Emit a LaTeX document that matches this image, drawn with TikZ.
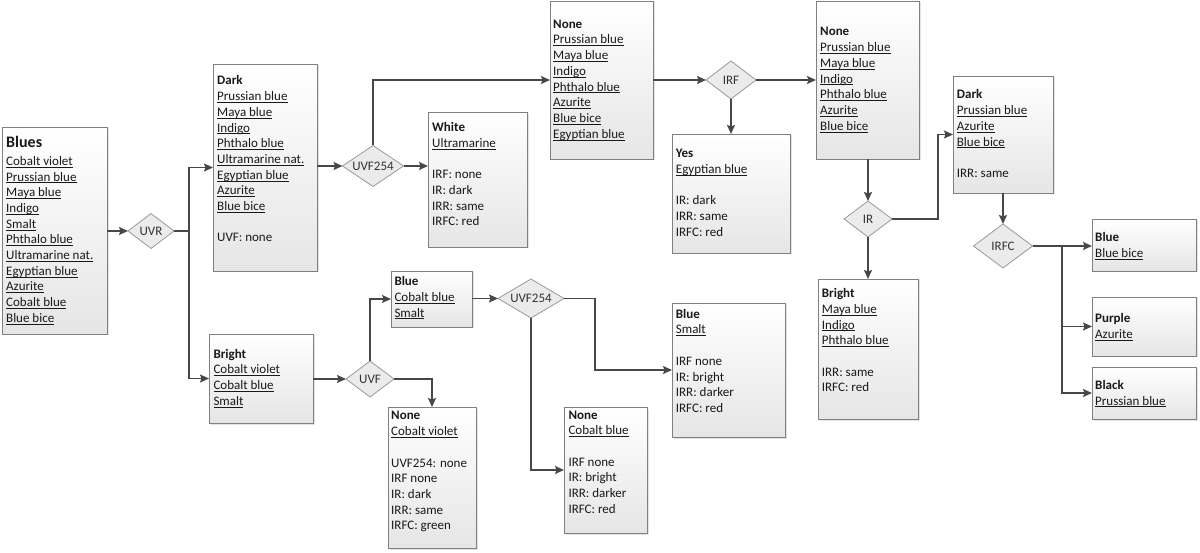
\documentclass[tikz,border=0pt]{standalone}
\usepackage{fontspec}
\setmainfont{Carlito}
\usetikzlibrary{shapes.geometric,arrows.meta,fit,shadows}
\newsavebox\lnkbox
\newcommand{\lnk}[1]{\sbox\lnkbox{#1}\rlap{\rule[-2pt]{\wd\lnkbox}{0.65pt}}\usebox\lnkbox}
\newcommand{\ttl}[1]{\textbf{#1}}
\begin{document}
\begin{tikzpicture}[x=1pt,y=-1pt,
 box/.style={draw=black!50, line width=0.8pt, top color=white, bottom color=black!10, inner sep=0pt, outer sep=0pt,
   drop shadow={shadow xshift=1.5pt, shadow yshift=-1.5pt, opacity=0.22}},
 txt/.style={anchor=base west, inner sep=0pt, font=\fontsize{13}{15.7}\selectfont, text=black!90},
 dia/.style={diamond, draw=black!40, line width=0.8pt, fill=black!8, inner sep=0pt, outer sep=0pt},
 dtxt/.style={inner sep=0pt, font=\fontsize{13}{15.7}\selectfont, text=black!80},
 arr/.style={draw=black!72, line width=1.5pt, -{Stealth[length=9pt,width=8pt,inset=1.5pt]}},
 ln/.style={draw=black!72, line width=1.5pt}]
\useasboundingbox[fill=white] (0,0) rectangle (1200,553);

% boxes
\node[box, fit={(2,127) (107,334)}] (blues) {};
\node[box, fit={(213,64) (317,271)}] (dark) {};
\node[box, fit={(428,112) (527,247)}] (white) {};
\node[box, fit={(550,1) (653,159)}] (none1) {};
\node[box, fit={(672,134) (790,253)}] (yes) {};
\node[box, fit={(816,1) (919,159)}] (none2) {};
\node[box, fit={(953,76) (1053,193)}] (dark2) {};
\node[box, fit={(1092,219) (1196,271)}] (blueR) {};
\node[box, fit={(1092,297) (1196,356)}] (purple) {};
\node[box, fit={(1092,367) (1196,419)}] (black) {};
\node[box, fit={(818,279) (918,419)}] (bright2) {};
\node[box, fit={(209,334) (313,423)}] (bright) {};
\node[box, fit={(391,271) (472,327)}] (blueM) {};
\node[box, fit={(388,407) (476,548)}] (none3) {};
\node[box, fit={(672,303) (785,437)}] (blue3) {};
\node[box, fit={(564,407) (647,533)}] (none4) {};

% diamonds
\node[dia, minimum width=46pt, minimum height=35pt] (uvr) at (151,231) {};
\node[dtxt] (uvrt) at (uvr) {UVR};
\node[dia, minimum width=61pt, minimum height=41pt] (uvfa) at (373,166) {};
\node[dtxt] (uvfat) at (uvfa) {UVF254};
\node[dia, minimum width=50pt, minimum height=38pt] (irf) at (731,80) {};
\node[dtxt] (irft) at (irf) {IRF};
\node[dia, minimum width=48pt, minimum height=36pt] (ir) at (868,219) {};
\node[dtxt] (irt) at (ir) {IR};
\node[dia, minimum width=59pt, minimum height=44pt] (irfc) at (1003,246) {};
\node[dtxt] (irfct) at (irfc) {IRFC};
\node[dia, minimum width=48pt, minimum height=36pt] (uvf) at (370,379) {};
\node[dtxt] (uvft) at (uvf) {UVF};
\node[dia, minimum width=66pt, minimum height=39pt] (uvfb) at (531,298.5) {};
\node[dtxt] (uvfbt) at (uvfb) {UVF254};

% texts
\node[txt] (tblues) at (6,148) {\begin{tabular}[t]{@{}l@{}}{\fontsize{16}{19}\selectfont\bfseries Blues}\\[1.7pt]
 \lnk{Cobalt violet}\\ \lnk{Prussian blue}\\ \lnk{Maya blue}\\ \lnk{Indigo}\\ \lnk{Smalt}\\ \lnk{Phthalo blue}\\
 \lnk{Ultramarine nat.}\\ \lnk{Egyptian blue}\\ \lnk{Azurite}\\ \lnk{Cobalt blue}\\ \lnk{Blue bice}\end{tabular}};
\node[txt] (tdark) at (217,85) {\begin{tabular}[t]{@{}l@{}}\ttl{Dark}\\ \lnk{Prussian blue}\\ \lnk{Maya blue}\\ \lnk{Indigo}\\
 \lnk{Phthalo blue}\\ \lnk{Ultramarine nat.}\\ \lnk{Egyptian blue}\\ \lnk{Azurite}\\ \lnk{Blue bice}\\ \\ UVF: none\end{tabular}};
\node[txt] (twhite) at (432,131.7) {\begin{tabular}[t]{@{}l@{}}\ttl{White}\\ \lnk{Ultramarine}\\ \\ IRF: none\\ IR: dark\\ IRR: same\\ IRFC: red\end{tabular}};
\node[txt] (tnone1) at (553,28.3) {\begin{tabular}[t]{@{}l@{}}\ttl{None}\\ \lnk{Prussian blue}\\ \lnk{Maya blue}\\ \lnk{Indigo}\\
 \lnk{Phthalo blue}\\ \lnk{Azurite}\\ \lnk{Blue bice}\\ \lnk{Egyptian blue}\end{tabular}};
\node[txt] (tyes) at (675.7,157.7) {\begin{tabular}[t]{@{}l@{}}\ttl{Yes}\\ \lnk{Egyptian blue}\\ \\ IR: dark\\ IRR: same\\ IRFC: red\end{tabular}};
\node[txt] (tnone2) at (820,36) {\begin{tabular}[t]{@{}l@{}}\ttl{None}\\ \lnk{Prussian blue}\\ \lnk{Maya blue}\\ \lnk{Indigo}\\
 \lnk{Phthalo blue}\\ \lnk{Azurite}\\ \lnk{Blue bice}\end{tabular}};
\node[txt] (tdark2) at (956.7,99) {\begin{tabular}[t]{@{}l@{}}\ttl{Dark}\\ \lnk{Prussian blue}\\ \lnk{Azurite}\\ \lnk{Blue bice}\\ \\ IRR: same\end{tabular}};
\node[txt] (tblueR) at (1095,241.7) {\begin{tabular}[t]{@{}l@{}}\ttl{Blue}\\ \lnk{Blue bice}\end{tabular}};
\node[txt] (tpurple) at (1095,322.7) {\begin{tabular}[t]{@{}l@{}}\ttl{Purple}\\ \lnk{Azurite}\end{tabular}};
\node[txt] (tblack) at (1095,389.3) {\begin{tabular}[t]{@{}l@{}}\ttl{Black}\\ \lnk{Prussian blue}\end{tabular}};
\node[txt] (tbright2) at (821.7,297.7) {\begin{tabular}[t]{@{}l@{}}\ttl{Bright}\\ \lnk{Maya blue}\\ \lnk{Indigo}\\ \lnk{Phthalo blue}\\ \\ IRR: same\\ IRFC: red\end{tabular}};
\node[txt] (tbright) at (213.3,358.3) {\begin{tabular}[t]{@{}l@{}}\ttl{Bright}\\ \lnk{Cobalt violet}\\ \lnk{Cobalt blue}\\ \lnk{Smalt}\end{tabular}};
\node[txt] (tblueM) at (394.3,285.7) {\begin{tabular}[t]{@{}l@{}}\ttl{Blue}\\ \lnk{Cobalt blue}\\ \lnk{Smalt}\end{tabular}};
\node[txt] (tnone3) at (391,420) {\begin{tabular}[t]{@{}l@{}}\ttl{None}\\ \lnk{Cobalt violet}\\ \\ UVF254: none\\ IRF none\\ IR: dark\\ IRR: same\\ IRFC: green\end{tabular}};
\node[txt] (tblue3) at (675.7,318.3) {\begin{tabular}[t]{@{}l@{}}\ttl{Blue}\\ \lnk{Smalt}\\ \\ IRF none\\ IR: bright\\ IRR: darker\\ IRFC: red\end{tabular}};
\node[txt] (tnone4) at (568.3,419) {\begin{tabular}[t]{@{}l@{}}\ttl{None}\\ \lnk{Cobalt blue}\\ \\ IRF none\\ IR: bright\\ IRR: darker\\ IRFC: red\end{tabular}};

% junctions
\coordinate (j1) at (189,231);
\coordinate (j2) at (938,219);
\coordinate (j3) at (1062,246);
\coordinate (j4) at (595,298.5);

% connectors
\draw[arr] (blues.east |- uvr.west) -- (uvr.west);
\draw[ln] (uvr.east) -- (j1);
\draw[arr] (j1) |- (dark.west);
\draw[arr] (j1) |- (bright.west);
\draw[arr] (dark.east |- uvfa.west) -- (uvfa.west);
\draw[arr] (uvfa.north) |- (none1.west);
\draw[arr] (uvfa.east) -- (uvfa.east -| white.west);
\draw[arr] (none1.east) -- (irf.west);
\draw[arr] (irf.east) -- (none2.west);
\draw[arr] (irf.south) -- (yes.north);
\draw[arr] (ir.north |- none2.south) -- (ir.north);
\draw[arr] (ir.east) -- (j2) |- (dark2.west);
\draw[arr] (ir.south) -- (ir.south |- bright2.north);
\draw[arr] (irfc.north |- dark2.south) -- (irfc.north);
\draw[ln] (irfc.east) -- (j3);
\draw[arr] (j3) -- (j3 -| blueR.west);
\draw[arr] (j3) |- (purple.west);
\draw[arr] (j3) |- (black.west);
\draw[arr] (bright.east |- uvf.west) -- (uvf.west);
\draw[arr] (uvf.north) |- (blueM.west);
\draw[arr] (uvf.east) -| (none3.north);
\draw[arr] (blueM.east |- uvfb.west) -- (uvfb.west);
\draw[arr] (uvfb.east) -- (j4) |- (blue3.west);
\draw[arr] (uvfb.south) |- (none4.west);
\end{tikzpicture}
\end{document}
